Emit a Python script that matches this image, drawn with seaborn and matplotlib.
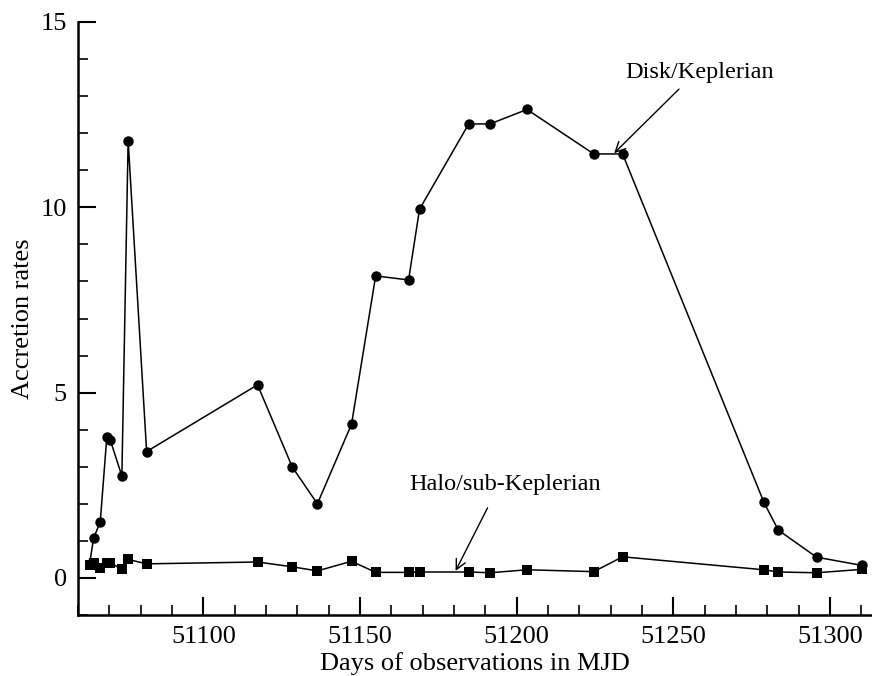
import matplotlib
matplotlib.use("Agg")
import matplotlib.pyplot as plt
from matplotlib.ticker import MultipleLocator
import seaborn as sns
import pandas as pd

# Data
days = [51063.7, 51065.0, 51067.1, 51069.2, 51070.3, 51074.0, 51076.0, 51081.9,
        51117.3, 51128.4, 51136.4, 51147.3, 51155.0, 51165.5, 51169.0, 51184.7,
        51191.5, 51203.3, 51224.6, 51233.8, 51278.9, 51283.5, 51295.7, 51310.1]
disk = [0.38, 1.08, 1.51, 3.81, 3.72, 2.75, 11.80, 3.41,
        5.21, 2.99, 2.00, 4.15, 8.15, 8.04, 9.95, 12.25,
        12.25, 12.64, 11.44, 11.44, 2.04, 1.29, 0.56, 0.34]
halo = [0.35, 0.40, 0.28, 0.40, 0.40, 0.24, 0.50, 0.38,
        0.43, 0.30, 0.19, 0.45, 0.15, 0.15, 0.16, 0.16,
        0.14, 0.22, 0.17, 0.57, 0.22, 0.16, 0.14, 0.23]
xticks = [51100, 51150, 51200, 51250, 51300]
yticks = [0, 5, 10, 15]

sns.set_style("white")
plt.rcParams['font.family'] = ['Liberation Serif', 'DejaVu Serif']
plt.rcParams['text.color'] = 'black'
plt.rcParams['axes.labelcolor'] = 'black'
plt.rcParams['xtick.color'] = 'black'
plt.rcParams['ytick.color'] = 'black'

df = pd.DataFrame({"day": days, "disk": disk, "halo": halo})

fig = plt.figure(figsize=(8.72, 6.76), dpi=100)
ax = fig.add_axes([78/872, 61/676, 1 - 78/872, (615-22)/676])

sns.lineplot(data=df, x="day", y="disk", sort=False, estimator=None, ax=ax,
             color="black", lw=1.1, marker="o", markersize=7.5,
             markeredgewidth=0, markerfacecolor="black")
sns.lineplot(data=df, x="day", y="halo", sort=False, estimator=None, ax=ax,
             color="black", lw=1.1, marker="s", markersize=6.5,
             markeredgewidth=0, markerfacecolor="black")

ax.set_xlim(51060, 51313.4)
ax.set_ylim(-1, 15)
ax.set_xticks(xticks)
ax.set_yticks(yticks)
ax.xaxis.set_minor_locator(MultipleLocator(10))
ax.yaxis.set_minor_locator(MultipleLocator(1))
ax.tick_params(axis='both', which='major', direction='in', length=13, width=1.5,
               labelsize=19, pad=8, colors='black')
ax.tick_params(axis='both', which='minor', direction='in', length=7, width=1.2)
ax.tick_params(axis='y', which='both', left=True)
ax.tick_params(axis='x', which='both', bottom=True)

for s in ['top', 'right']:
    ax.spines[s].set_visible(False)
for s in ['left', 'bottom']:
    ax.spines[s].set_linewidth(1.8)
    ax.spines[s].set_color('black')

ax.set_xlabel("Days of observations in MJD", fontsize=19, labelpad=3)
ax.set_ylabel("Accretion rates", fontsize=19, labelpad=5)

arrow = dict(arrowstyle="->", lw=1.0, color="black", shrinkA=0, shrinkB=0,
             mutation_scale=18)
ax.annotate("", xy=(51180.5, 0.19), xytext=(51190.7, 1.89), arrowprops=arrow)
ax.text(51196.3, 2.51, "Halo/sub-Keplerian", fontsize=17.5, ha="center", va="center")
ax.annotate("", xy=(51231.1, 11.46), xytext=(51251.8, 13.19), arrowprops=arrow)
ax.text(51258.5, 13.65, "Disk/Keplerian", fontsize=17.5, ha="center", va="center")

fig.savefig("out.png", dpi=100)
